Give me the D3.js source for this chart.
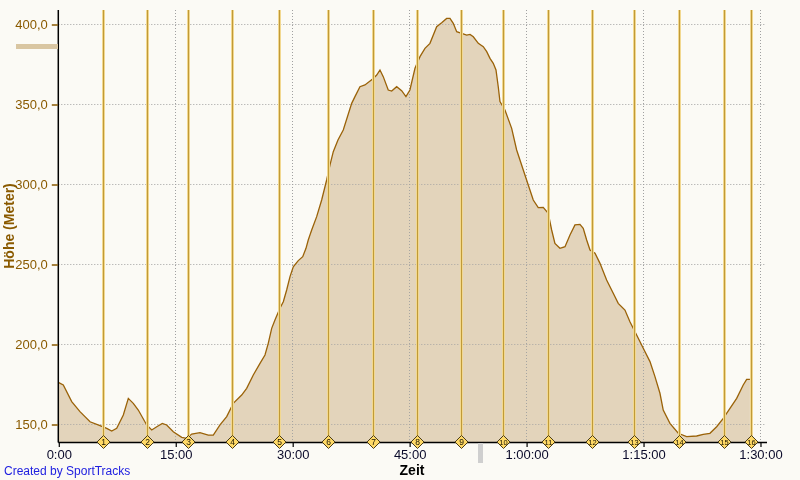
<!DOCTYPE html>
<html><head><meta charset="utf-8">
<script src="https://cdn.jsdelivr.net/npm/d3@7"></script>
<style>
html,body{margin:0;padding:0;background:#fbfaf5;}
svg{display:block;}
</style></head>
<body>
<svg id="c" width="800" height="480"></svg>
<script>
// elapsed time (minutes)
const times = [0,0.64,1.72,2.78,4.07,5.35,6.21,6.85,7.49,8.34,8.98,9.62,10.26,11.34,11.98,12.63,13.34,13.9,14.75,15.83,16.47,17.11,18.17,19.24,19.88,20.74,21.6,22.44,23.52,24.16,25.01,25.87,26.51,26.93,27.37,27.79,28.43,28.86,29.29,29.72,30.14,30.78,31.35,31.77,32.06,32.5,33.14,33.78,34.42,34.85,35.27,35.87,36.55,37.63,38.05,38.69,39.33,40.4,40.84,41.26,41.68,42.32,42.76,43.4,44.04,44.59,45.1,45.75,46.39,47.03,47.67,48.53,49.17,49.81,50.24,50.66,51.1,51.74,52.38,52.81,53.23,53.87,54.51,54.95,55.37,55.79,56.14,56.43,56.65,57.29,58.15,58.79,59.64,60.28,60.92,61.56,62.2,62.84,63.28,63.7,64.34,64.99,65.63,66.27,66.91,67.33,67.77,68.2,68.84,69.48,70.33,71.18,71.82,72.68,73.32,74.18,75.03,75.89,76.53,77.17,77.59,78.45,79.52,80.59,81.88,82.72,83.58,84.44,85.29,86.15,87.01,87.85,88.29,88.71];
// elevation (m)
const elevation = [176,174.4,164,157.7,151.4,149,147.3,145.6,147.3,155.6,166,162.9,158.75,149.4,146.25,148.3,150.4,149.4,145.2,141.7,141,143.75,144.6,143.1,143.1,149.4,154.6,162.9,168.1,172.3,180.6,187.9,193.1,200.4,209.8,215,222.3,226.4,233.75,242.1,248.3,252.1,254.6,259.8,265,271.25,279.6,290,302.5,311.9,320.2,327.5,333.75,350.4,354.6,360.8,361.9,366,368.1,371.25,367.1,358.75,358.1,360.8,358.3,354.6,358.75,372.3,379.6,384.8,387.9,398.3,400.8,403.5,403.5,400.4,395.2,394.2,393.1,393.5,392,387.9,385.8,382.7,378.5,375.4,371.25,360.8,351.5,346.25,334.8,321.25,308.75,299.4,290,285.2,285.4,281.7,271.25,262.9,259.8,260.8,268.1,274.4,274.8,272.3,265,258.75,256.7,250.4,240,231.7,225.4,221.25,213.9,205.6,197.3,189,179.6,169.2,158.75,150.4,144.2,142.1,142.5,143.5,144.2,148.3,153.5,159.8,166,174.4,177.9,177.9];
// lap markers (minutes)
const markerTimes = [5.77,11.41,16.67,22.24,28.31,34.63,40.4,46.04,51.65,57.07,62.84,68.41,73.87,79.61,85.39,88.8];
const markerLabels = ["1","2","3","4","5","6","7","8","9","10","11","12","13","14","15","16"];
const xTickValues = [0,15,30,45,60,75,90];
const xTickLabels = ["0:00","15:00","30:00","45:00","1:00:00","1:15:00","1:30:00"];
const yTickValues = [150,200,250,300,350,400];
const yTickLabels = ["150,0","200,0","250,0","300,0","350,0","400,0"];

const data = times.map((t,i)=>({t, v: elevation[i]}));
const svg = d3.select("#c");
const L = 58.3, R = 767, T = 10, B = 442;
const x = d3.scaleLinear().domain([0, 90.9]).range([L, R]);
const y = d3.scaleLinear().domain([138.75, 408.75]).range([B, T]);

svg.append("rect").attr("width",800).attr("height",480).attr("fill","#fbfaf5");

// gridlines
const grid = svg.append("g").attr("stroke","#a0a0a0").attr("stroke-dasharray","1,2").attr("stroke-width",1);
yTickValues.forEach(v=>{
  grid.append("line").attr("x1",L).attr("x2",766).attr("y1",Math.round(y(v))+0.5).attr("y2",Math.round(y(v))+0.5);
});
xTickValues.slice(1).forEach(v=>{
  grid.append("line").attr("x1",Math.round(x(v))+0.5).attr("x2",Math.round(x(v))+0.5).attr("y1",T).attr("y2",B);
});

// area
const area = d3.area().x(d=>x(d.t)).y0(B).y1(d=>y(d.v));
svg.append("path").datum(data).attr("d",area).attr("fill","#e3d4bb");
const grid2 = svg.append("g").attr("stroke","#a0a0a0").attr("stroke-dasharray","1,2").attr("stroke-width",1).attr("opacity",0.9);
const clip = svg.append("clipPath").attr("id","ac");
clip.append("path").datum(data).attr("d",area);
yTickValues.forEach(v=>{
  grid2.append("line").attr("clip-path","url(#ac)").attr("x1",L).attr("x2",766).attr("y1",Math.round(y(v))+0.5).attr("y2",Math.round(y(v))+0.5);
});
xTickValues.slice(1).forEach(v=>{
  grid2.append("line").attr("clip-path","url(#ac)").attr("x1",Math.round(x(v))+0.5).attr("x2",Math.round(x(v))+0.5).attr("y1",T).attr("y2",B);
});
const line = d3.line().x(d=>x(d.t)).y(d=>y(d.v));
svg.append("path").datum(data).attr("d",line).attr("fill","none").attr("stroke","#9a6208").attr("stroke-width",1.3);

// marker lines
const mk = svg.append("g");
markerTimes.forEach(t=>{
  const px = Math.round(x(t));
  mk.append("line").attr("x1",px+0.5).attr("x2",px+0.5).attr("y1",T).attr("y2",B).attr("stroke","#fbe3a0").attr("stroke-width",3);
  mk.append("line").attr("x1",px+0.5).attr("x2",px+0.5).attr("y1",T).attr("y2",B).attr("stroke","#c09a38").attr("stroke-width",1.3);
});

// axes
svg.append("line").attr("x1",L).attr("x2",L).attr("y1",T).attr("y2",B+0.5).attr("stroke","#000").attr("stroke-width",1.5);
svg.append("line").attr("x1",L).attr("x2",R).attr("y1",B+0.5).attr("y2",B+0.5).attr("stroke","#000").attr("stroke-width",1.5);

const yAxis = d3.axisLeft(y).tickValues(yTickValues).tickFormat((d,i)=>yTickLabels[i]).tickSize(6).tickPadding(4);
const gy = svg.append("g").attr("transform",`translate(${L-0.5},0.5)`).call(yAxis);
gy.select(".domain").remove();
gy.selectAll(".tick line").attr("stroke","#8a5a00").attr("stroke-width",1.5);
gy.selectAll(".tick text").attr("fill","#8a5a00").attr("font-family","Liberation Sans, Arial, sans-serif").attr("font-size",13);

const xAxis = d3.axisBottom(x).tickValues(xTickValues).tickFormat((d,i)=>xTickLabels[i]).tickSize(5).tickPadding(3);
const gx = svg.append("g").attr("transform",`translate(0.5,${B})`).call(xAxis);
gx.select(".domain").remove();
gx.selectAll(".tick line").attr("stroke","#000").attr("stroke-width",1.2);
gx.selectAll(".tick text").attr("fill","#0a0a2a").attr("font-family","Liberation Sans, Arial, sans-serif").attr("font-size",13);

// diamonds
const dm = svg.append("g");
markerTimes.forEach((t,i)=>{
  const px = Math.round(x(t))+0.5;
  dm.append("path").attr("d",`M${px},${B-6.5}L${px+6.5},${B}L${px},${B+6.5}L${px-6.5},${B}Z`)
    .attr("fill","#ffd966").attr("stroke","#4a3c18").attr("stroke-width",1);
  dm.append("text").attr("x",px).attr("y",B+3).attr("text-anchor","middle")
    .attr("font-family","Liberation Sans, Arial, sans-serif").attr("font-size",markerLabels[i].length>1?7.5:8.5)
    .attr("fill","#1a1400").text(markerLabels[i]);
});

// scroll mark
svg.append("rect").attr("x",478).attr("y",443).attr("width",5).attr("height",20).attr("fill","#cfcfcf");
// legend swatch
svg.append("rect").attr("x",16).attr("y",44).attr("width",42).attr("height",5).attr("fill","#d9c6a2");

// titles
svg.append("text").attr("x",412).attr("y",475).attr("text-anchor","middle")
  .attr("font-family","Liberation Sans, Arial, sans-serif").attr("font-weight","bold").attr("font-size",14).attr("fill","#000").text("Zeit");
svg.append("text").attr("transform","translate(14,226) rotate(-90)").attr("text-anchor","middle")
  .attr("font-family","Liberation Sans, Arial, sans-serif").attr("font-weight","bold").attr("font-size",14).attr("fill","#8a5a00").text("Höhe (Meter)");
svg.append("text").attr("x",4).attr("y",475)
  .attr("font-family","Liberation Sans, Arial, sans-serif").attr("font-size",12).attr("fill","#2020e0").text("Created by SportTracks");
</script>
</body></html>
